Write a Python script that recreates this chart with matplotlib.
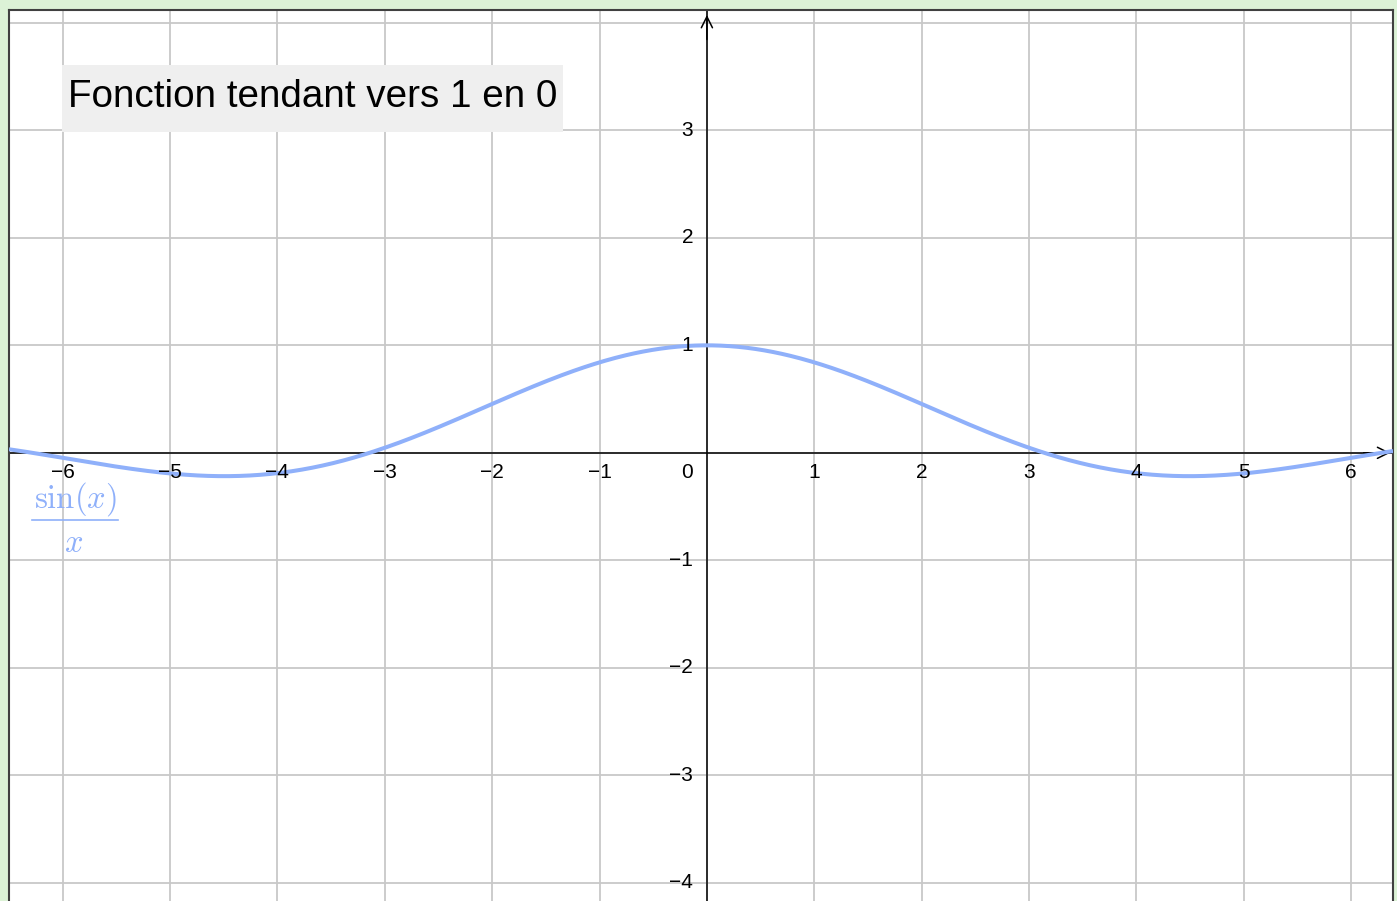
import numpy as np
import matplotlib.pyplot as plt
from matplotlib.patches import Rectangle
from matplotlib.lines import Line2D

plt.rcParams['font.family'] = ['Liberation Sans', 'DejaVu Sans']
plt.rcParams['mathtext.fontset'] = 'cm'

# window of the graph (data units)
xmin, xmax = -6.5, 6.39
ymin, ymax = -4.17, 4.12

x_ticks = [-6, -5, -4, -3, -2, -1, 0, 1, 2, 3, 4, 5, 6]
y_ticks = [-4, -3, -2, -1, 1, 2, 3]
grid_y = [-4, -3, -2, -1, 0, 1, 2, 3, 4]

title = "Fonction tendant vers 1 en 0"
label_num = r"$\sin(x)$"
label_den = r"$x$"

# the plotted function: sin(x)/x
xs = np.linspace(xmin, xmax, 800)
ys = np.sinc(xs / np.pi)

W, H = 1397, 901
fig = plt.figure(figsize=(W / 100, H / 100), dpi=100, facecolor='#dcf2d6')
ax = fig.add_axes([9 / W, 0, (1393 - 9) / W, (901 - 10) / H])
ax.set_facecolor('white')
ax.set_xlim(xmin, xmax)
ax.set_ylim(ymin, ymax)
ax.set_xticks([])
ax.set_yticks([])
for s in ['left', 'top', 'right']:
    ax.spines[s].set_color('#404040')
    ax.spines[s].set_linewidth(1.5)
ax.spines['bottom'].set_visible(False)

gc = '#c8c8c8'
for v in x_ticks:
    ax.axvline(v, color=gc, lw=1.3, zorder=0)
for v in grid_y:
    ax.axhline(v, color=gc, lw=1.3, zorder=0)

# axes with arrows
ax.axhline(0, color='black', lw=1.1, zorder=2)
ax.axvline(0, color='black', lw=1.1, zorder=2)
ax.annotate('', xy=(xmax, 0), xytext=(xmax - 0.3, 0),
            arrowprops=dict(arrowstyle='->', color='black', lw=1.1,
                            mutation_scale=20), zorder=3)
ax.annotate('', xy=(0, ymax - 0.02), xytext=(0, ymax - 0.3),
            arrowprops=dict(arrowstyle='->', color='black', lw=1.1,
                            mutation_scale=20), zorder=3)

# tick labels
for v in x_ticks:
    dx = -14.4 if v == 0 else 0
    ax.annotate(str(v).replace('-', '\u2212'), xy=(v, 0), xytext=(dx, -14.3),
                textcoords='offset points', ha='center', va='center',
                fontsize=15, zorder=4)
for v in y_ticks:
    ax.annotate(str(v).replace('-', '\u2212'), xy=(0, v), xytext=(-10, 0),
                textcoords='offset points', ha='right', va='center',
                fontsize=15, zorder=4)

col = '#8fb0fa'
ax.plot(xs, ys, color=col, lw=2.9, zorder=3, solid_capstyle='butt')

# function label (fraction drawn as numerator / bar / denominator)
fig.text(75 / W, 1 - 499 / H, label_num, color=col, fontsize=23.5,
         ha='center', va='center', zorder=6)
fig.add_artist(Line2D([32 / W, 118 / W], [1 - 520 / H, 1 - 520 / H],
                      transform=fig.transFigure, color=col, lw=1.2, zorder=6))
fig.text(74 / W, 1 - 543 / H, label_den, color=col, fontsize=23.5,
         ha='center', va='center', zorder=6)

# title box
fig.add_artist(Rectangle((62 / W, 1 - 132 / H), (563 - 62) / W, 67 / H,
                         transform=fig.transFigure, facecolor='#efefef',
                         edgecolor='none', zorder=5))
fig.text(68 / W, 1 - 97 / H, title, fontsize=27.8, ha='left', va='center',
         color='black', zorder=6)

fig.savefig('out.png', dpi=100, facecolor=fig.get_facecolor())
